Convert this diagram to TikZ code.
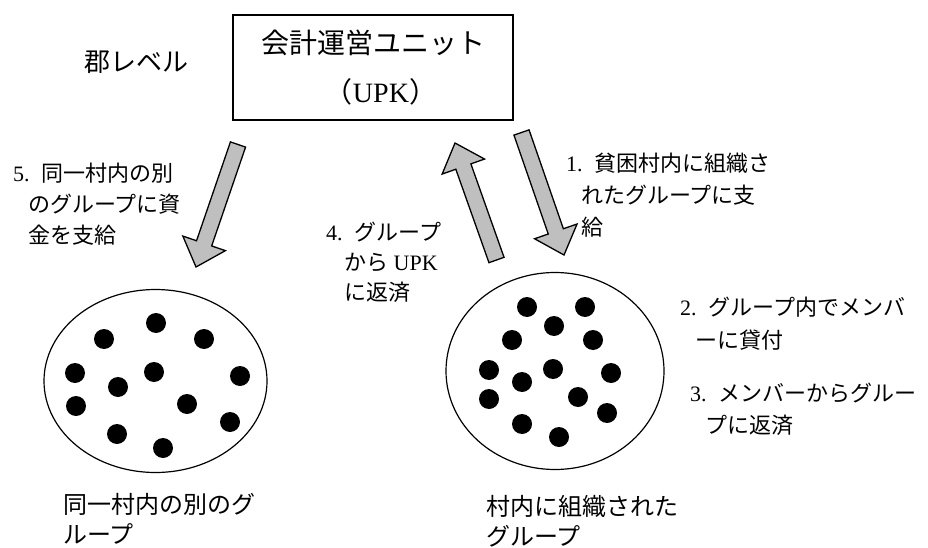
\documentclass[tikz,border=0pt]{standalone}
\usepackage{fontspec}
\setmainfont{Noto Sans CJK JP}
\newfontfamily\tm{Liberation Serif}
\usetikzlibrary{calc,shapes.geometric}
\tikzset{
  barrow/.style={fill=black!25, draw=black, line width=1.3pt, line join=miter},
  lbl/.style={anchor=base west, inner sep=0pt, align=left, font=\fontsize{22}{31}\selectfont},
  bigl/.style={lbl, font=\fontsize{24}{30}\selectfont},
  unitbox/.style={draw, line width=1.4pt, minimum width=280pt, minimum height=105pt, inner sep=0pt, align=center, font=\fontsize{28}{49}\selectfont},
  grp/.style={draw, ellipse, line width=1.2pt, inner sep=0pt},
  dot/.style={fill=black}
}
\newcommand{\blockarr}[3]{%
  \coordinate (#1h) at ($(#3)!25pt!(#2)$);
  \draw[barrow] ($(#2)!8pt!90:(#3)$) -- ($(#1h)!8pt!90:(#3)$) -- ($(#1h)!22.5pt!90:(#3)$) -- (#3)
    -- ($(#1h)!22.5pt!-90:(#3)$) -- ($(#1h)!8pt!-90:(#3)$) -- ($(#2)!8pt!-90:(#3)$) -- cycle;}
\begin{document}
\begin{tikzpicture}[x=1pt,y=-1pt]
\useasboundingbox (0,0) rectangle (928,548);
\fill[white] (0,0) rectangle (928,548);
% unit box
\node[unitbox] (upk) at (373,67.5) {会計運営ユニット\\\hspace*{16pt}（{\tm UPK}）};
\node[lbl, font=\fontsize{26}{30}\selectfont] (lv) at (84,72) {郡レベル};
% groups
\node[grp, minimum width=223pt, minimum height=183pt] (g2) at (155.5,381) {};
\node[grp, minimum width=218pt, minimum height=197pt] (g1) at (555,371) {};
\foreach \x/\y in {156/323,104/339,204/339,75/373,154/372,240/376,118/387,76/406,187/404,230/422,117/434,163/448}
  \fill[dot] (\x,\y) circle (10pt);
\foreach \x/\y in {527/307,585/307,554/326,512/340,593/340,489/370,553/369,611/373,522/382,489/399,578/397,607/413,522/424,559/437}
  \fill[dot] (\x,\y) circle (10pt);
% arrows
\coordinate (a5t) at (238,144.5); \coordinate (a5p) at (196,267);
\coordinate (a4t) at (496.5,260); \coordinate (a4p) at (455,143);
\coordinate (a1t) at (521.5,132.5); \coordinate (a1p) at (564,255);
\blockarr{a5}{a5t}{a5p}
\blockarr{a4}{a4t}{a4p}
\blockarr{a1}{a1t}{a1p}
% labels (base anchor = baseline of last line)
\node[lbl] (t5) at (13,243) {{\tm 5.}\hspace{12pt}同一村内の別\\\hspace*{15pt}のグループに資\\\hspace*{15pt}金を支給};
\node[lbl, font=\fontsize{22}{30}\selectfont] (t4) at (326,300) {{\tm 4.}\hspace{12pt}グループ\\\hspace*{18pt}から{\tm\ UPK}\\\hspace*{18pt}に返済};
\node[lbl, font=\fontsize{22}{32}\selectfont] (t1) at (566,235) {{\tm 1.}\hspace{12pt}貧困村内に組織さ\\\hspace*{15pt}れたグループに支\\\hspace*{15pt}給};
\node[lbl, font=\fontsize{22}{33}\selectfont] (t2) at (680,348) {{\tm 2.}\hspace{12pt}グループ内でメンバ\\\hspace*{15pt}ーに貸付};
\node[lbl, font=\fontsize{22}{32}\selectfont] (t3) at (690,433) {{\tm 3.}\hspace{12pt}メンバーからグルー\\\hspace*{15pt}プに返済};
\node[bigl] (n2) at (63,543) {同一村内の別のグ\\ループ};
\node[bigl] (n1) at (486,545) {村内に組織された\\グループ};
\end{tikzpicture}
\end{document}
